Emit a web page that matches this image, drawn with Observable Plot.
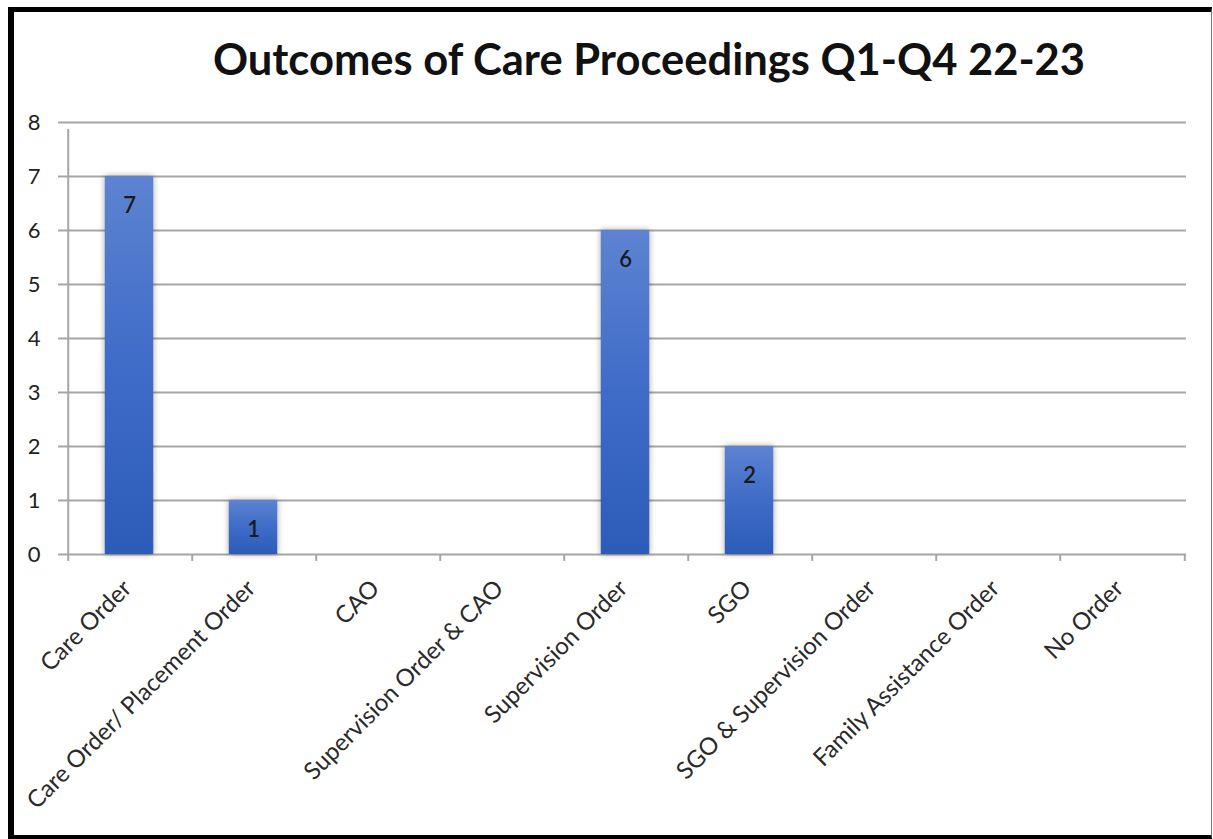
<!DOCTYPE html>
<html>
<head>
<meta charset="utf-8">
<script src="https://cdn.jsdelivr.net/npm/d3@7"></script>
<script src="https://cdn.jsdelivr.net/npm/@observablehq/plot@0.6"></script>
<style>
  html, body { margin: 0; padding: 0; background: #fff; }
  #wrap { position: relative; width: 1213px; height: 839px; overflow: hidden; font-family: Lato, "Open Sans", sans-serif; }
  #frame { position: absolute; left: 8px; top: 7px; width: 1204px; height: 832px; box-sizing: border-box;
           border-left: 6px solid #000; border-top: 5px solid #000; border-bottom: 4px solid #000; border-right: 1px solid #777; pointer-events: none; }
  #title { position: absolute; left: 0; width: 1298px; top: 37px; text-align: center; font-weight: 700; font-size: 43.5px; color: #111; line-height: 1; }
  #chart { position: absolute; left: 0; top: 0; }
</style>
</head>
<body>
<div id="wrap">
  <div id="chart"></div>
  <div id="title">Outcomes of Care Proceedings Q1-Q4 22-23</div>
  <div id="frame"></div>
</div>
<script>
// Outcome categories and the number of proceedings ending in each
const categories = [
  "Care Order",
  "Care Order/ Placement Order",
  "CAO",
  "Supervision Order & CAO",
  "Supervision Order",
  "SGO",
  "SGO & Supervision Order",
  "Family Assistance Order",
  "No Order"
];
const counts = [7, 1, 0, 0, 6, 2, 0, 0, 0];
const yTicks = [0, 1, 2, 3, 4, 5, 6, 7, 8];

const data = categories.map((c, i) => ({cat: c, n: counts[i]}));

const W = 1213, H = 839;
const mL = 65, mR = 27, mT = 122, mB = 285;
const bw = (W - mL - mR) / categories.length;   // band width
const barW = 49;
const grid = "#a6a6a6";

const plot = Plot.plot({
  width: W,
  height: H,
  marginLeft: mL,
  marginRight: mR,
  marginTop: mT,
  marginBottom: mB,
  style: {fontFamily: "Lato, 'Open Sans', sans-serif", fontSize: "22px", color: "#222", background: "transparent"},
  x: {domain: categories, padding: 0, axis: null},
  y: {domain: [0, 8], axis: null},
  marks: [
    // horizontal gridlines
    Plot.ruleY(yTicks.filter(t => t > 0), {stroke: grid, strokeWidth: 2}),
    // y axis with outward ticks
    Plot.axisY({ticks: yTicks, tickSize: 7, tickPadding: 18, stroke: grid, strokeWidth: 2, label: null, tickFormat: d3.format("d")}),
    Plot.ruleX([categories[0]], {x: d => d, y1: 0, y2: 8, dx: -bw / 2, stroke: grid, strokeWidth: 2, insetBottom: -7}),
    // baseline
    Plot.ruleY([0], {stroke: grid, strokeWidth: 2}),
    // category boundary ticks below the baseline
    Plot.ruleX(categories, {x: d => d, y1: 0, y2: 0, dx: -bw / 2, stroke: grid, strokeWidth: 2, insetBottom: -7}),
    Plot.ruleX([categories[categories.length - 1]], {x: d => d, y1: 0, y2: 0, dx: bw / 2, stroke: grid, strokeWidth: 2, insetBottom: -7}),
    // bars
    Plot.barY(data, {x: "cat", y: "n", fill: "url(#barFill)", insetLeft: (bw - barW) / 2 - 1, insetRight: (bw - barW) / 2 + 1}),
    // value labels inside the bars
    Plot.text(data.filter(d => d.n > 0), {x: "cat", y: "n", text: d => String(d.n), dy: 29, dx: -1, fontSize: 22, fill: "#1a1a1a", fontWeight: 600}),
    // rotated category labels
    Plot.text(data, {x: "cat", frameAnchor: "bottom", text: "cat", rotate: -45, textAnchor: "end", lineAnchor: "middle", dx: -3, dy: 30, fontSize: 24, fill: "#2a2a2a"})
  ]
});

// gradient fill and soft shadow for the bars
const svg = d3.select(plot);
const defs = svg.insert("defs", ":first-child");
const g = defs.append("linearGradient").attr("id", "barFill").attr("x1", 0).attr("y1", 0).attr("x2", 0).attr("y2", 1);
g.append("stop").attr("offset", "0%").attr("stop-color", "#5d83d1");
g.append("stop").attr("offset", "50%").attr("stop-color", "#3f6cc8");
g.append("stop").attr("offset", "100%").attr("stop-color", "#2c5bb8");
svg.selectAll("g[aria-label='bar']").style("filter", "drop-shadow(0px 0px 3px rgba(0,0,0,0.35))");

document.getElementById("chart").appendChild(plot);
</script>
</body>
</html>
